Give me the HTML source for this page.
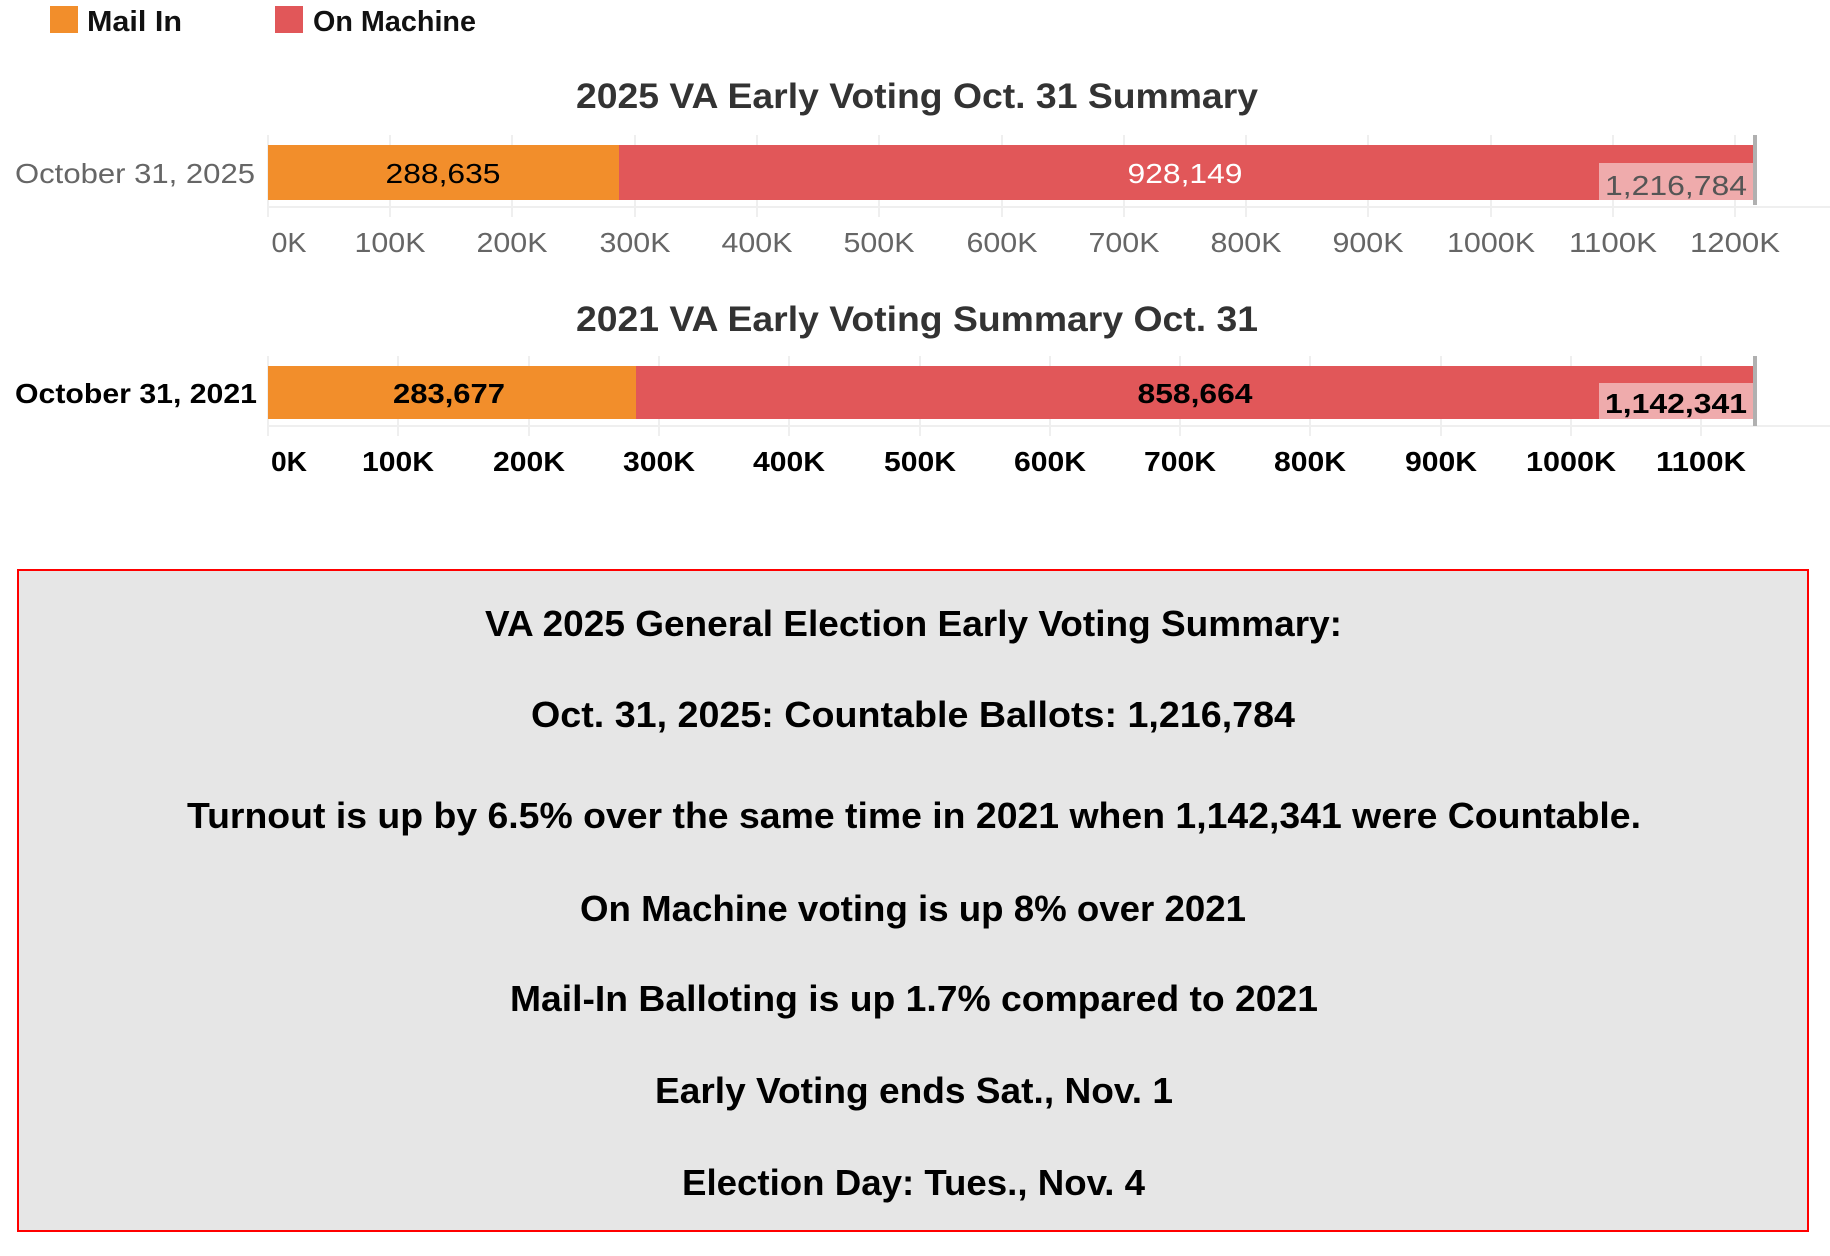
<!DOCTYPE html>
<html><head><meta charset="utf-8"><style>
html,body{margin:0;padding:0;background:#fff;}
svg{display:block;}
text{font-family:"Liberation Sans",sans-serif;}
</style></head><body>
<svg width="1830" height="1256" viewBox="0 0 1830 1256" xmlns="http://www.w3.org/2000/svg">
<!-- legend -->
<rect x="50" y="6" width="28" height="27" fill="#f28e2b"/>
<text x="87" y="31" font-size="29" font-weight="bold" fill="#111" textLength="95" lengthAdjust="spacingAndGlyphs">Mail In</text>
<rect x="275" y="6" width="28" height="27" fill="#e15759"/>
<text x="313" y="31" font-size="29" font-weight="bold" fill="#111" textLength="163" lengthAdjust="spacingAndGlyphs">On Machine</text>

<!-- chart 1 -->
<text x="576" y="108" font-size="35" font-weight="bold" fill="#333" textLength="682" lengthAdjust="spacingAndGlyphs">2025 VA Early Voting Oct. 31 Summary</text>
<g stroke="#efefef" stroke-width="2">
<line x1="268" y1="135" x2="268" y2="217"/><line x1="390" y1="135" x2="390" y2="217"/><line x1="512" y1="135" x2="512" y2="217"/><line x1="635" y1="135" x2="635" y2="217"/><line x1="757" y1="135" x2="757" y2="217"/><line x1="879" y1="135" x2="879" y2="217"/><line x1="1002" y1="135" x2="1002" y2="217"/><line x1="1124" y1="135" x2="1124" y2="217"/><line x1="1246" y1="135" x2="1246" y2="217"/><line x1="1368" y1="135" x2="1368" y2="217"/><line x1="1491" y1="135" x2="1491" y2="217"/><line x1="1613" y1="135" x2="1613" y2="217"/><line x1="1735" y1="135" x2="1735" y2="217"/>
<line x1="268" y1="207" x2="1830" y2="207"/>
</g>
<rect x="268" y="145" width="351" height="55" fill="#f28e2b"/>
<rect x="619" y="145" width="1136" height="55" fill="#e15759"/>
<rect x="1599" y="163" width="155" height="37" fill="#efabac"/>
<rect x="1753" y="135" width="4" height="70" fill="#b0b0b0"/>
<text x="443" y="183" font-size="28" fill="#000" text-anchor="middle" textLength="115" lengthAdjust="spacingAndGlyphs">288,635</text>
<text x="1185" y="183" font-size="28" fill="#fff" text-anchor="middle" textLength="115" lengthAdjust="spacingAndGlyphs">928,149</text>
<text x="1605" y="195" font-size="28" fill="#555" textLength="142" lengthAdjust="spacingAndGlyphs">1,216,784</text>
<text x="15" y="183" font-size="28" fill="#666" textLength="240" lengthAdjust="spacingAndGlyphs">October 31, 2025</text>
<g font-size="28" fill="#666" text-anchor="middle">
<text x="289" y="252" textLength="35" lengthAdjust="spacingAndGlyphs">0K</text>
<text x="390" y="252" textLength="71" lengthAdjust="spacingAndGlyphs">100K</text>
<text x="512" y="252" textLength="71" lengthAdjust="spacingAndGlyphs">200K</text>
<text x="635" y="252" textLength="71" lengthAdjust="spacingAndGlyphs">300K</text>
<text x="757" y="252" textLength="71" lengthAdjust="spacingAndGlyphs">400K</text>
<text x="879" y="252" textLength="71" lengthAdjust="spacingAndGlyphs">500K</text>
<text x="1002" y="252" textLength="71" lengthAdjust="spacingAndGlyphs">600K</text>
<text x="1124" y="252" textLength="71" lengthAdjust="spacingAndGlyphs">700K</text>
<text x="1246" y="252" textLength="71" lengthAdjust="spacingAndGlyphs">800K</text>
<text x="1368" y="252" textLength="71" lengthAdjust="spacingAndGlyphs">900K</text>
<text x="1491" y="252" textLength="88" lengthAdjust="spacingAndGlyphs">1000K</text>
<text x="1613" y="252" textLength="88" lengthAdjust="spacingAndGlyphs">1100K</text>
<text x="1735" y="252" textLength="90" lengthAdjust="spacingAndGlyphs">1200K</text>
</g>

<!-- chart 2 -->
<text x="576" y="331" font-size="35" font-weight="bold" fill="#333" textLength="682" lengthAdjust="spacingAndGlyphs">2021 VA Early Voting Summary Oct. 31</text>
<g stroke="#efefef" stroke-width="2">
<line x1="268" y1="356" x2="268" y2="436"/><line x1="398" y1="356" x2="398" y2="436"/><line x1="529" y1="356" x2="529" y2="436"/><line x1="659" y1="356" x2="659" y2="436"/><line x1="789" y1="356" x2="789" y2="436"/><line x1="920" y1="356" x2="920" y2="436"/><line x1="1050" y1="356" x2="1050" y2="436"/><line x1="1180" y1="356" x2="1180" y2="436"/><line x1="1310" y1="356" x2="1310" y2="436"/><line x1="1441" y1="356" x2="1441" y2="436"/><line x1="1571" y1="356" x2="1571" y2="436"/><line x1="1701" y1="356" x2="1701" y2="436"/>
<line x1="268" y1="426" x2="1830" y2="426"/>
</g>
<rect x="268" y="366" width="368" height="53" fill="#f28e2b"/>
<rect x="636" y="366" width="1119" height="53" fill="#e15759"/>
<rect x="1599" y="383" width="155" height="36" fill="#efabac"/>
<rect x="1753" y="356" width="4" height="70" fill="#b0b0b0"/>
<text x="449" y="403" font-size="28" font-weight="bold" fill="#000" text-anchor="middle" textLength="112" lengthAdjust="spacingAndGlyphs">283,677</text>
<text x="1195" y="403" font-size="28" font-weight="bold" fill="#000" text-anchor="middle" textLength="115" lengthAdjust="spacingAndGlyphs">858,664</text>
<text x="1605" y="413" font-size="28" font-weight="bold" fill="#000" textLength="142" lengthAdjust="spacingAndGlyphs">1,142,341</text>
<text x="15" y="403" font-size="28" font-weight="bold" fill="#000" textLength="242" lengthAdjust="spacingAndGlyphs">October 31, 2021</text>
<g font-size="28" font-weight="bold" fill="#000" text-anchor="middle">
<text x="289" y="471" textLength="36" lengthAdjust="spacingAndGlyphs">0K</text>
<text x="398" y="471" textLength="72" lengthAdjust="spacingAndGlyphs">100K</text>
<text x="529" y="471" textLength="72" lengthAdjust="spacingAndGlyphs">200K</text>
<text x="659" y="471" textLength="72" lengthAdjust="spacingAndGlyphs">300K</text>
<text x="789" y="471" textLength="72" lengthAdjust="spacingAndGlyphs">400K</text>
<text x="920" y="471" textLength="72" lengthAdjust="spacingAndGlyphs">500K</text>
<text x="1050" y="471" textLength="72" lengthAdjust="spacingAndGlyphs">600K</text>
<text x="1180" y="471" textLength="72" lengthAdjust="spacingAndGlyphs">700K</text>
<text x="1310" y="471" textLength="72" lengthAdjust="spacingAndGlyphs">800K</text>
<text x="1441" y="471" textLength="72" lengthAdjust="spacingAndGlyphs">900K</text>
<text x="1571" y="471" textLength="90" lengthAdjust="spacingAndGlyphs">1000K</text>
<text x="1701" y="471" textLength="90" lengthAdjust="spacingAndGlyphs">1100K</text>
</g>

<!-- summary box -->
<rect x="18" y="570" width="1790" height="661" fill="#e6e6e6" stroke="#ff0000" stroke-width="2"/>
<g font-size="36" font-weight="bold" fill="#000">
<text x="485" y="636" textLength="857" lengthAdjust="spacingAndGlyphs">VA 2025 General Election Early Voting Summary:</text>
<text x="531" y="727" textLength="764" lengthAdjust="spacingAndGlyphs">Oct. 31, 2025: Countable Ballots: 1,216,784</text>
<text x="187" y="828" textLength="1454" lengthAdjust="spacingAndGlyphs">Turnout is up by 6.5% over the same time in 2021 when 1,142,341 were Countable.</text>
<text x="580" y="921" textLength="666" lengthAdjust="spacingAndGlyphs">On Machine voting is up 8% over 2021</text>
<text x="510" y="1011" textLength="808" lengthAdjust="spacingAndGlyphs">Mail-In Balloting is up 1.7% compared to 2021</text>
<text x="655" y="1103" textLength="518" lengthAdjust="spacingAndGlyphs">Early Voting ends Sat., Nov. 1</text>
<text x="682" y="1195" textLength="463" lengthAdjust="spacingAndGlyphs">Election Day: Tues., Nov. 4</text>
</g>
</svg>
</body></html>
